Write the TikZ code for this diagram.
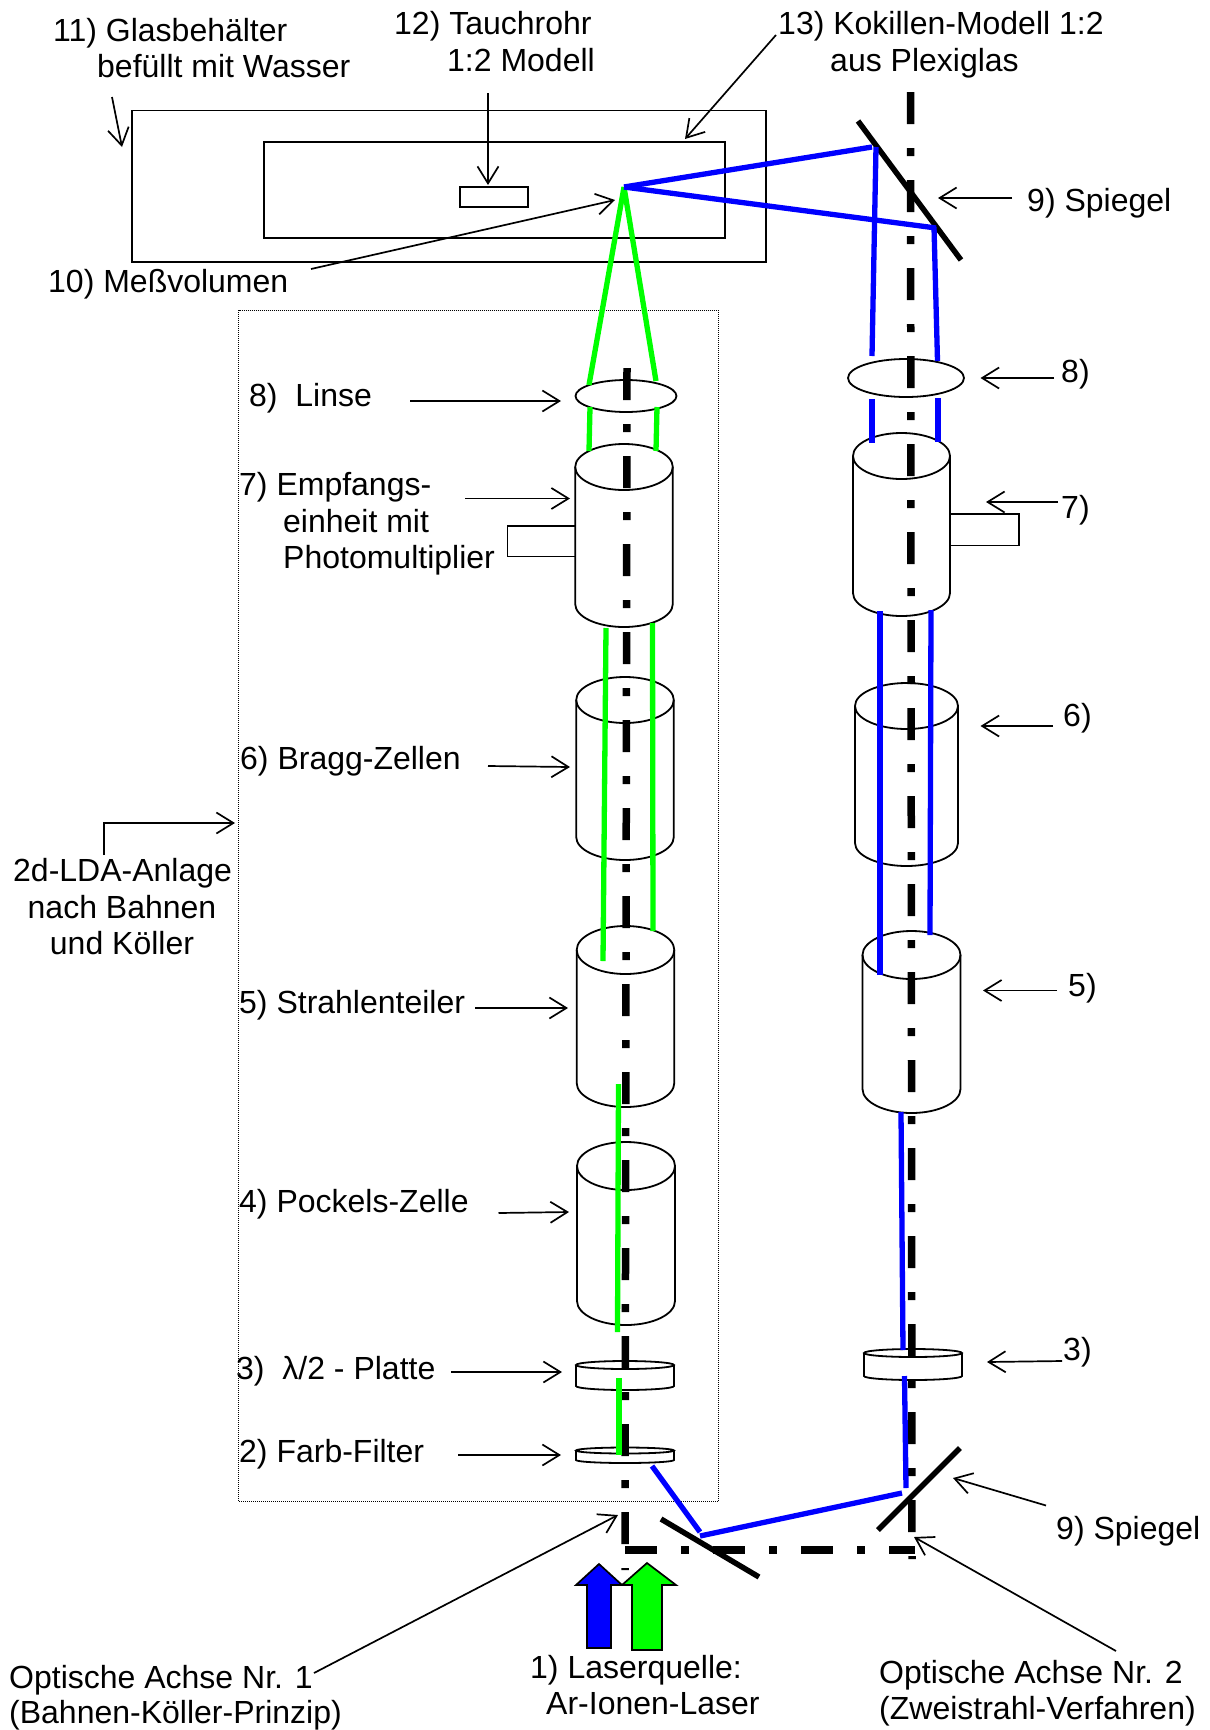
\documentclass[tikz,border=0pt]{standalone}
\usepackage{fontspec}
\setmainfont{Liberation Sans}
\usetikzlibrary{arrows.meta}
\definecolor{beamblue}{RGB}{0,0,255}
\definecolor{beamgreen}{RGB}{0,255,0}
\tikzset{
  x=1pt,y=-1pt,
  thinbox/.style={draw=black,line width=1.8pt},
  axisline/.style={draw=black,line width=7.5pt,line cap=butt,dash pattern=on 32pt off 24pt on 8pt off 24pt},
  mirror/.style={draw=black,line width=5.5pt},
  bluebeam/.style={draw=beamblue,line width=5.3pt},
  greenbeam/.style={draw=beamgreen,line width=5.3pt},
  lead/.style={draw=black,line width=1.7pt,-{Straight Barb[length=17pt,width=21pt,line width=1.7pt]}},
  lbl/.style={anchor=base west,inner sep=0pt,font=\fontsize{32}{37}\selectfont},
  lblc/.style={anchor=base,inner sep=0pt,font=\fontsize{32}{37}\selectfont},
  fatarrow/.style={draw=black,line width=1.7pt,line join=miter},
}
% cx, rx, top centre y, ry, bottom centre y
\newcommand{\cylbody}[5]{%
  \draw[thinbox] (#1,#3) ellipse [x radius=#2,y radius=#4];
  \draw[thinbox] (#1-#2,#3) -- (#1-#2,#5)
    .. controls (#1-#2,#5+.5523*#4) and (#1-.5523*#2,#5+#4) .. (#1,#5+#4)
    .. controls (#1+.5523*#2,#5+#4) and (#1+#2,#5+.5523*#4) .. (#1+#2,#5)
    -- (#1+#2,#3);
}
\newcommand{\leader}[3]{%
  \coordinate (#1a) at #2; \coordinate (#1b) at #3;
  \draw[lead] (#1a) -- (#1b);
}
\begin{document}
\begin{tikzpicture}
\useasboundingbox (0,0) rectangle (1210,1730);
\fill[white] (0,0) rectangle (1210,1730);

% tank, mould, immersion tube
\draw[thinbox] (132,110.5) rectangle (766,262);
\draw[thinbox] (264,142) rectangle (725,238);
\draw[thinbox] (460,187) rectangle (528,207);

% LDA enclosure
\draw[black,line width=1pt,densely dotted] (238.5,310) rectangle (718.5,1501.5);

% left train
\draw[thinbox] (626,396) ellipse [x radius=50.5,y radius=16];
\cylbody{624}{48.8}{467}{23}{604}
\draw[thinbox] (575,526) -- (507.5,526) -- (507.5,556.5) -- (575,556.5);
\cylbody{625}{48.8}{700}{23}{837}
\cylbody{625.5}{48.8}{950}{24}{1083}
\cylbody{626}{49}{1166}{24}{1301}
\cylbody{625}{49}{1365}{4}{1386}
\cylbody{625}{49}{1450.5}{3}{1460}

% right train
\draw[thinbox] (906,378) ellipse [x radius=58,y radius=19];
\cylbody{901.5}{48.5}{456}{23}{593}
\draw[thinbox] (950,514) -- (1019,514) -- (1019,545.5) -- (950,545.5);
\cylbody{906.5}{51.5}{706}{23}{843}
\cylbody{911.5}{49}{955}{24}{1089}
\cylbody{913}{49}{1353}{4}{1376}

% optical axes
\draw[axisline] (627,368) -- (625,1570);
\draw[axisline] (910.5,92) -- (912,1559);
\draw[axisline] (625,1550) -- (915,1550);

% mirrors
\draw[mirror] (858,121) -- (961,260);
\draw[mirror] (661,1519) -- (759,1577);
\draw[mirror] (960,1448) -- (878,1530);

% green beams
\coordinate (focus) at (624,187);
\draw[greenbeam] (focus) -- (589,385);
\draw[greenbeam] (focus) -- (656,381);
\draw[greenbeam] (590,407) -- (589,451);
\draw[greenbeam] (657,407) -- (656,451);
\draw[greenbeam] (606,628) -- (603,961);
\draw[greenbeam] (652.5,623) -- (653,931);
\draw[greenbeam] (618.5,1084) -- (617.5,1332);
\draw[greenbeam] (619,1378) -- (619,1455);

% blue beams
\draw[bluebeam] (652,1466) -- (700,1532);
\draw[bluebeam] (700,1536) -- (902,1493);
\draw[bluebeam] (906,1488) -- (904.5,1376);
\draw[bluebeam] (901,1112) -- (903,1350);
\draw[bluebeam] (880,611) -- (880,975);
\draw[bluebeam] (931,610) -- (930,935);
\draw[bluebeam] (872,399) -- (872,443);
\draw[bluebeam] (938,398) -- (938,442);
\draw[bluebeam] (876,147) -- (872,356);
\draw[bluebeam] (934,227) -- (937.5,361);
\draw[bluebeam] (focus) -- (872,147);
\draw[bluebeam] (focus) -- (936,228);

% source arrows
\draw[fatarrow,fill=beamblue] (599,1564) -- (622,1585) -- (611,1585) -- (611,1648) -- (587,1648) -- (587,1585) -- (576,1585) -- cycle;
\draw[fatarrow,fill=beamgreen] (647,1563) -- (676,1585) -- (662,1585) -- (662,1650) -- (632,1650) -- (632,1585) -- (622,1585) -- cycle;

% leaders
\leader{aXI}{(112,97)}{(122,147)}
\leader{aXII}{(488,93)}{(488,185)}
\leader{aXIII}{(776,35)}{(685,139)}
\leader{aX}{(311,269)}{(615,200)}
\leader{aIXu}{(1012,198)}{(938,198)}
\leader{aVIIIr}{(1054,378)}{(980.5,378)}
\leader{aVIIIl}{(410,401)}{(561,401)}
\leader{aVIIl}{(465,498.5)}{(570,498.5)}
\leader{aVIIr}{(1058,502)}{(986,502)}
\leader{aVIl}{(488,766)}{(570,767)}
\leader{aVIr}{(1053,726)}{(980.5,726)}
\leader{aVl}{(475,1008)}{(568,1008)}
\leader{aVr}{(1057,990.5)}{(983,990.5)}
\leader{aIVl}{(498.5,1213)}{(569,1212)}
\leader{aIIIl}{(451,1372)}{(562,1372)}
\leader{aIIIr}{(1062,1361)}{(987,1362)}
\leader{aIIl}{(458,1455)}{(561,1455)}
\leader{aIXd}{(1046,1505.5)}{(953,1478)}
\leader{aOAi}{(314,1673)}{(618,1515)}
\leader{aOAii}{(1116,1651)}{(914,1537)}
\coordinate (elbA) at (104,855);
\coordinate (elbB) at (104,823);
\coordinate (elbC) at (235,823);
\draw[lead] (elbA) -- (elbB) -- (elbC);

% labels
\node[lbl] (t11a) at (53,41) {11) Glasbehälter};
\node[lbl] (t11b) at (97,77) {befüllt mit Wasser};
\node[lbl] (t12a) at (394,34) {12) Tauchrohr};
\node[lbl] (t12b) at (447,71) {1:2 Modell};
\node[lbl] (t13a) at (778,34) {13) Kokillen-Modell 1:2};
\node[lbl] (t13b) at (830,71) {aus Plexiglas};
\node[lbl] (t9u) at (1027,211) {9) Spiegel};
\node[lbl] (t10) at (48,292) {10) Meßvolumen};
\node[lbl] (t8r) at (1061,382) {8)};
\node[lbl] (t8l) at (249,406) {8)\ \ Linse};
\node[lbl] (t7a) at (239,495) {7) Empfangs-};
\node[lbl] (t7b) at (283,532) {einheit mit};
\node[lbl] (t7c) at (283,568) {Photomultiplier};
\node[lbl] (t7r) at (1061,518) {7)};
\node[lbl] (t6l) at (240,769) {6) Bragg-Zellen};
\node[lbl] (t6r) at (1063,726) {6)};
\node[lbl] (tLa) at (13,881) {2d-LDA-Anlage};
\node[lblc] (tLb) at (122,918) {nach Bahnen};
\node[lblc] (tLc) at (122,954) {und Köller};
\node[lbl] (t5l) at (239,1013) {5) Strahlenteiler};
\node[lbl] (t5r) at (1068,996) {5)};
\node[lbl] (t4l) at (239,1212) {4) Pockels-Zelle};
\node[lbl] (t3l) at (236,1379) {3)\ \ λ/2 - Platte};
\node[lbl] (t3r) at (1063,1360) {3)};
\node[lbl] (t2l) at (239,1462) {2) Farb-Filter};
\node[lbl] (t9d) at (1056,1539) {9) Spiegel};
\node[lbl] (t1a) at (530,1678) {1) Laserquelle:};
\node[lbl] (t1b) at (546,1714) {Ar-Ionen-Laser};
\node[lbl] (tO1a) at (9,1688) {Optische Achse Nr. 1};
\node[lbl] (tO1b) at (9,1723) {(Bahnen-Köller-Prinzip)};
\node[lbl] (tO2a) at (879,1683) {Optische Achse Nr. 2};
\node[lbl] (tO2b) at (879,1719) {(Zweistrahl-Verfahren)};
\end{tikzpicture}
\end{document}
